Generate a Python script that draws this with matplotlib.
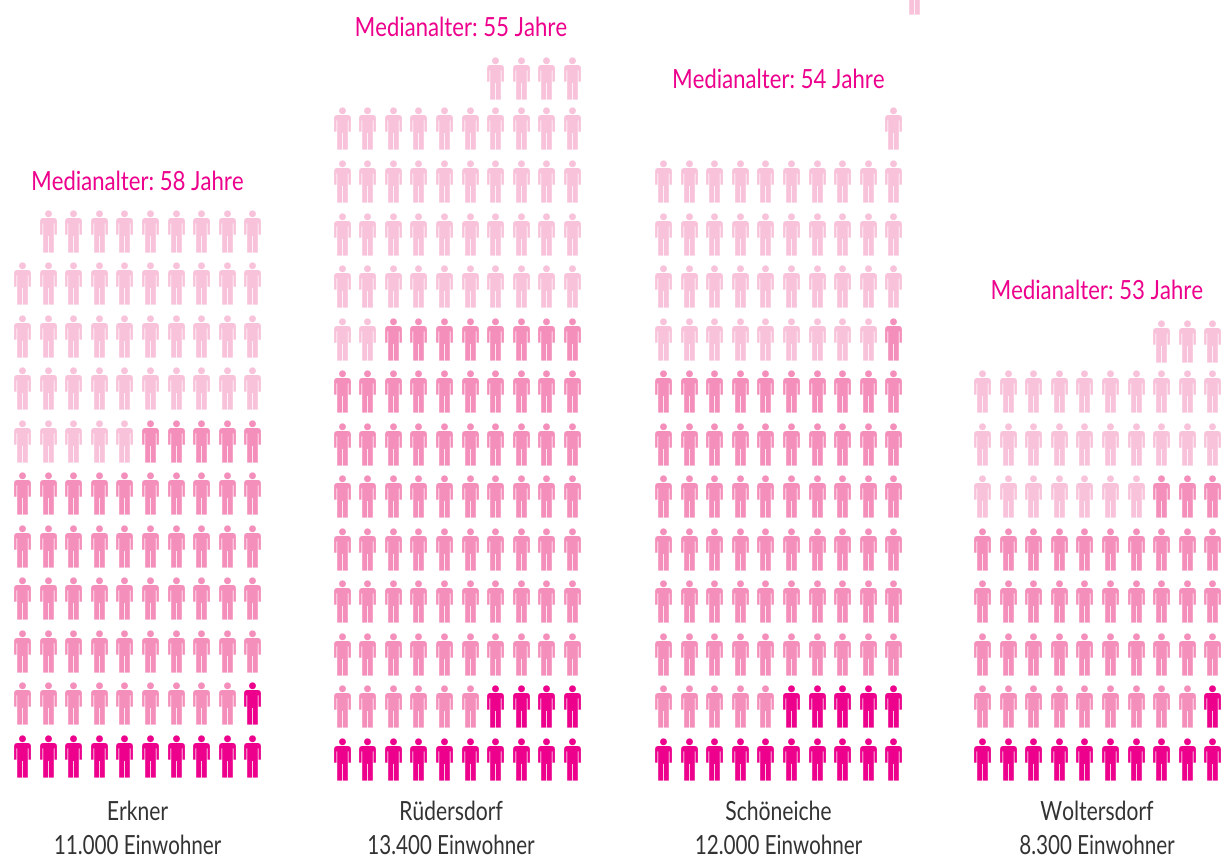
import matplotlib
matplotlib.use('Agg')
import matplotlib.pyplot as plt
from matplotlib.path import Path
from matplotlib.patheffects import AbstractPathEffect
from matplotlib.transforms import Affine2D

towns = ['Erkner', 'Rüdersdorf', 'Schöneiche', 'Woltersdorf']
residents = ['11.000 Einwohner', '13.400 Einwohner', '12.000 Einwohner', '8.300 Einwohner']
median_age = [58, 55, 54, 53]

# people per age group, bottom group first
dark = [11, 14, 15, 11]
mid = [54, 74, 66, 42]
light = [44, 46, 40, 30]

colors = ['#ec008c', '#f48fbb', '#f8c2da']

# layout in pixels
col_start = [22, 341.5, 663, 982]
col_step = 25.6
row_bottom = [756, 759, 759, 759]
row_step = 52.55
top_row_shift = [0, 2, 0, 2]
title_x = [137.5, 461, 778.5, 1097]
title_y = [190, 36, 88, 299]
label_x = [137.5, 451, 778.5, 1097]


# squeeze a text sideways, the original uses a condensed font
class Condense(AbstractPathEffect):
    def __init__(self, factor, cx):
        super().__init__()
        self.factor = factor
        self.cx = cx

    def draw_path(self, renderer, gc, tpath, affine, rgbFace=None):
        squeeze = Affine2D().translate(-self.cx, 0).scale(self.factor, 1).translate(self.cx, 0)
        renderer.draw_path(gc, tpath, affine + squeeze, rgbFace)


# little person, px units, y downwards from the head
h = 42.2
def pt(x, y):
    return (x, h / 2 - y)

body = [pt(-5.0, 7.6), pt(5.0, 7.6), pt(8.4, 7.6), pt(8.4, 11.0), pt(8.4, 24.3), pt(6.0, 24.3),
        pt(6.0, 13), pt(5.3, 13), pt(5.3, h), pt(0.4, h), pt(0.4, 25.5), pt(-0.4, 25.5), pt(-0.4, h),
        pt(-5.3, h), pt(-5.3, 13), pt(-6.0, 13), pt(-6.0, 24.3), pt(-8.4, 24.3), pt(-8.4, 11.0),
        pt(-8.4, 7.6), pt(-5.0, 7.6), pt(-5.0, 7.6)]
codes = [Path.MOVETO, Path.LINETO, Path.CURVE3, Path.CURVE3] + [Path.LINETO] * 15 + [Path.CURVE3, Path.CURVE3, Path.CLOSEPOLY]
head = Path.circle(pt(0, 3.4), 3.4)
person = Path.make_compound_path(head, Path(body, codes))

fig = plt.figure(figsize=(12.24, 8.56), dpi=100)
ax = fig.add_axes([0, 0, 1, 1])
ax.set_xlim(0, 1224)
ax.set_ylim(856, 0)
ax.axis('off')

ms = h * 0.72
font = ['Lato', 'DejaVu Sans']

for t in range(len(towns)):
    groups = [dark[t], mid[t], light[t]]
    total = sum(groups)
    i = 0
    for g in range(3):
        xs = []
        ys = []
        for k in range(groups[g]):
            # rows fill from the right
            row = i // 10
            xs.append(col_start[t] + (9 - i % 10) * col_step)
            y = row_bottom[t] - row * row_step
            if row == (total - 1) // 10:
                y += top_row_shift[t]
            ys.append(y)
            i += 1
        ax.plot(xs, ys, ls='none', marker=person, ms=ms, mfc=colors[g], mew=0)
    ax.text(title_x[t], title_y[t], 'Medianalter: %d Jahre' % median_age[t], color='#ec008c', ha='center',
            va='baseline', fontsize=19, family=font, path_effects=[Condense(0.84, title_x[t])])
    ax.text(label_x[t], 820, towns[t], color='#333333', ha='center', va='baseline', fontsize=19,
            family=font, path_effects=[Condense(0.8, label_x[t])])
    ax.text(label_x[t], 854, residents[t], color='#333333', ha='center', va='baseline', fontsize=19,
            family=font, path_effects=[Condense(0.78, label_x[t])])

# stray figure cut off by the top edge, as in the original
ax.plot([914], [-7], ls='none', marker=person, ms=ms, mfc=colors[2], mew=0)

fig.savefig('out.png', dpi=100)
